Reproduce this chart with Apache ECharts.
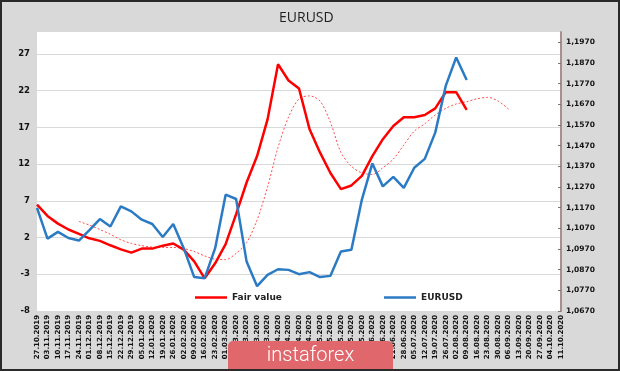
<!DOCTYPE html>
<html><head><meta charset="utf-8">
<script src="https://cdn.jsdelivr.net/npm/echarts@6/dist/echarts.min.js"></script>
<style>html,body{margin:0;padding:0;background:#d9d9d9}#c{width:620px;height:371px}</style>
</head><body><div id="c"></div>
<script>
const categories = ['27.10.2019','03.11.2019','10.11.2019','17.11.2019','24.11.2019','01.12.2019','08.12.2019','15.12.2019','22.12.2019','29.12.2019',
'05.01.2020','12.01.2020','19.01.2020','26.01.2020','02.02.2020','09.02.2020','16.02.2020','23.02.2020','01.03.2020','08.03.2020',
'15.03.2020','22.03.2020','29.03.2020','05.04.2020','12.04.2020','19.04.2020','26.04.2020','03.05.2020','10.05.2020','17.05.2020',
'24.05.2020','31.05.2020','07.06.2020','14.06.2020','21.06.2020','28.06.2020','05.07.2020','12.07.2020','19.07.2020','26.07.2020',
'02.08.2020','09.08.2020','16.08.2020','23.08.2020','30.08.2020','06.09.2020','13.09.2020','20.09.2020','27.09.2020','04.10.2020','11.10.2020'];

const fairValue = [6.5,4.95,3.9,3.1,2.5,1.9,1.55,0.95,0.4,-0.05,
0.5,0.5,0.9,1.2,0.35,-1.25,-3.55,-1.5,1.1,5.2,
9.5,13.1,18.1,25.6,23.4,22.3,16.8,13.6,10.8,8.6,
9.1,10.4,13.1,15.4,17.2,18.4,18.4,18.7,19.6,21.8,
21.8,19.4];

const fairTrend = [null,null,null,null,4.2,3.7,3.1,2.45,1.7,1.2,
0.9,0.7,0.65,0.65,0.5,0.1,-0.5,-0.95,-1.0,-0.15,
1.3,4.4,8.9,14.3,18.4,20.9,21.3,20.6,17.7,13.6,
11.7,10.8,10.6,11.5,12.7,14.6,16.5,17.5,18.7,19.6,
20.2,20.5,20.9,21.1,20.6,19.5];

const eurusd = [1.1169,1.1020,1.1053,1.1023,1.1011,1.1061,1.1115,1.1079,1.1176,1.1152,
1.1112,1.1091,1.1028,1.1091,1.0974,1.0834,1.0829,1.0974,1.1233,1.1212,
1.0909,1.0790,1.0845,1.0872,1.0869,1.0848,1.0858,1.0834,1.0840,1.0958,
1.0966,1.1209,1.1384,1.1273,1.1319,1.1266,1.1363,1.1406,1.1533,1.1759,
1.1897,1.1788];

const leftTicks = [-8,-3,2,7,12,17,22,27];
const rightTicks = [1.0670,1.0770,1.0870,1.0970,1.1070,1.1170,1.1270,1.1370,1.1470,1.1570,1.1670,1.1770,1.1870,1.1970];

const legendText = {fontFamily: 'DejaVu Sans', fontWeight: 'bold', fontSize: 9, color: '#222'};
const chart = echarts.init(document.getElementById('c'));
chart.setOption({
  animation: false,
  backgroundColor: '#d9d9d9',
  title: {text: 'EURUSD', left: 274, top: 6,
    textStyle: {fontSize: 14, fontWeight: 'normal', color: '#1e1e1e', fontFamily: 'Open Sans'}},
  legend: [
    {left: 190, top: 288, itemWidth: 32, itemHeight: 2.5, icon: 'rect', data: ['Fair value'], textStyle: legendText},
    {left: 379, top: 288, itemWidth: 32, itemHeight: 2.5, icon: 'rect', data: ['EURUSD'], textStyle: legendText}
  ],
  grid: {left: 37, right: 59, top: 32, bottom: 60, show: true, backgroundColor: '#fff', borderWidth: 0, containLabel: false},
  xAxis: {type: 'category', data: categories, boundaryGap: false,
    axisLine: {show: false}, axisTick: {show: false}, splitLine: {show: false},
    axisLabel: {rotate: 90, interval: 0, fontSize: 7, fontWeight: 'bold', fontFamily: 'DejaVu Sans', color: '#111', margin: 4}},
  yAxis: [
    {type: 'value', min: -8, max: 30,
     axisLine: {show: false}, axisTick: {show: false, customValues: leftTicks},
     axisLabel: {customValues: leftTicks, fontSize: 8.5, fontWeight: 'bold', fontFamily: 'DejaVu Sans', color: '#111', margin: 7},
     splitLine: {show: true, lineStyle: {color: '#d9d9d9', width: 1}}},
    {type: 'value', position: 'right', min: 1.067, max: 1.202,
     axisLine: {show: true, lineStyle: {color: '#a88f8f', width: 2}},
     axisTick: {show: true, inside: true, length: 3, customValues: rightTicks, lineStyle: {color: '#777'}},
     axisLabel: {customValues: rightTicks, formatter: v => v.toFixed(4).replace('.', ','),
       fontSize: 7.5, fontWeight: 'bold', fontFamily: 'DejaVu Sans', color: '#111', margin: 5},
     splitLine: {show: false}}
  ],
  series: [
    {name: 'Fair value', type: 'line', yAxisIndex: 0, data: fairValue, symbol: 'none',
     lineStyle: {color: '#ff0000', width: 2.5}, itemStyle: {color: '#ff0000'}, z: 3},
    {name: 'Fair value trend', type: 'line', yAxisIndex: 0, data: fairTrend, symbol: 'none', smooth: 0.3,
     lineStyle: {color: '#ff4d4d', width: 1, type: [2, 2]}, itemStyle: {color: '#ff4d4d'}, z: 2},
    {name: 'EURUSD', type: 'line', yAxisIndex: 1, data: eurusd, symbol: 'none',
     lineStyle: {color: '#2b7bc4', width: 2.5}, itemStyle: {color: '#2b7bc4'}, z: 4}
  ],
  graphic: [
    {type: 'rect', shape: {x: 228, y: 341, width: 165, height: 34, r: [5, 5, 0, 0]}, style: {fill: '#e0676b'}, z: 50},
    {type: 'text', x: 310.5, y: 356, style: {text: 'instaforex', fill: '#ffffff', fontFamily: 'Roboto', fontWeight: 300, fontSize: 20, align: 'center', verticalAlign: 'middle'}, z: 51},
    {type: 'rect', shape: {x: 1, y: 1, width: 618, height: 369}, style: {fill: 'none', stroke: '#2a2a2a', lineWidth: 2}, z: 100}
  ]
});
</script>
</body></html>
